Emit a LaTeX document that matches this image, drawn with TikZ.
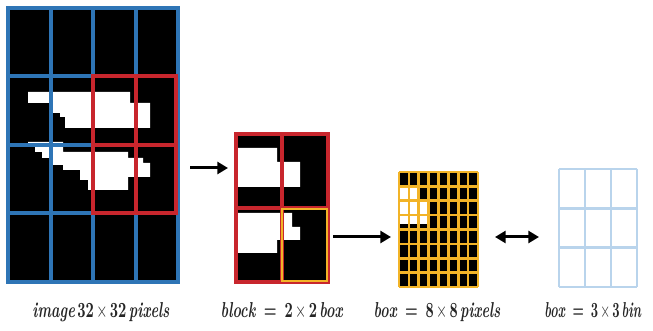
\documentclass[tikz,border=0pt]{standalone}
\usetikzlibrary{arrows.meta,fit}
\definecolor{blueC}{RGB}{46,117,182}
\definecolor{redC}{RGB}{200,38,45}
\definecolor{orangeC}{RGB}{242,180,40}
\definecolor{lightblueC}{RGB}{185,212,236}
\newcommand{\labtext}[2]{\resizebox{#1}{11.25pt}{#2}}
\tikzset{
  figbox/.style={inner sep=0pt, fill=black},
  blueline/.style={draw=blueC, line width=3pt},
  redline/.style={draw=redC, line width=3pt},
  orangeline/.style={draw=orangeC, line width=2.2pt},
  yelline/.style={draw=orangeC, line width=2pt},
  binline/.style={draw=lightblueC, line width=2.2pt},
  arr/.style={line width=2.25pt, -{Triangle[length=8pt,width=9pt]}},
  darr/.style={line width=2.25pt, {Triangle[length=8pt,width=9pt]}-{Triangle[length=8pt,width=9pt]}},
  lbl/.style={anchor=base, inner sep=0pt, text=black!85, font=\bfseries},
}
\begin{document}
\begin{tikzpicture}[x=0.75pt,y=-0.75pt]
\useasboundingbox (0,0) rectangle (653,331);

% ---------- image 32x32 ----------
\node[figbox, fit={(8,8)(178,282)}] (img) {};
\fill[white] (28,92) -- (130,92) -- (130,103) -- (150,103) -- (150,128) -- (65,128)
  -- (65,117) -- (60,117) -- (60,113) -- (52,113) -- (52,103) -- (28,103) -- cycle;
\fill[white] (28,142) -- (63,142) -- (63,152) -- (128,152) -- (128,158) -- (143,158)
  -- (143,163) -- (150,163) -- (150,177) -- (128,177) -- (128,190) -- (88,190)
  -- (88,180) -- (80,180) -- (80,170) -- (63,170) -- (63,165) -- (50,165)
  -- (50,158) -- (42,158) -- (42,152) -- (35,152) -- (35,147) -- (28,147) -- cycle;
\foreach \xx in {50.5,93,135.5} \draw[blueline] (\xx,8) -- (\xx,282);
\foreach \yy in {76.5,145,213.5} \draw[blueline] (8,\yy) -- (178,\yy);
\draw[blueline] (img.south west) rectangle (img.north east);
\draw[redline] (93,76.5) rectangle (176,213.5);
\draw[redline] (135.5,76.5) -- (135.5,213.5);
\draw[redline] (93,145) -- (176,145);

% ---------- block 2x2 box ----------
\node[figbox, fit={(236,134)(328,282)}] (blk) {};
\fill[white] (238,148) -- (277,148) -- (277,162) -- (300,162) -- (300,187) -- (238,187) -- cycle;
\fill[white] (238,213) -- (292,213) -- (292,227) -- (300,227) -- (300,240) -- (277,240)
  -- (277,253) -- (238,253) -- cycle;
\draw[redline] (blk.south west) rectangle (blk.north east);
\draw[redC, line width=2.4pt] (282,134) -- (282,282);
\draw[redline] (236,208) -- (328,208);
\draw[orangeline] (282,209) rectangle (327,281);

% ---------- box 8x8 pixels ----------
\node[figbox, fit={(399,172)(478,287)}] (box8) {};
\foreach \r/\c in {1/0,1/1,2/0,2/1,2/2}
  \fill[white] ({399+\c*9.875},{172+\r*14.375}) rectangle ++(9.875,14.375);
\foreach \c in {0,1,2}
  \fill[white] ({399+\c*9.875},{172+3*14.375}) rectangle ++(9.875,9);
\foreach \i in {0,...,8} {
  \draw[yelline] ({399+\i*9.875},172) -- ({399+\i*9.875},287);
  \draw[yelline] (399,{172+\i*14.375}) -- (478,{172+\i*14.375});
}

% ---------- bin 3x3 ----------
\node[inner sep=0pt, fit={(559,169)(637,287)}] (bin) {};
\foreach \i in {0,1,2,3} {
  \draw[binline] ({559+\i*26},169) -- ({559+\i*26},287);
  \draw[binline] (559,{169+\i*39.33}) -- (637,{169+\i*39.33});
}

% ---------- arrows ----------
\coordinate (a1s) at (190,168);
\coordinate (a1e) at (228,168);
\coordinate (a2s) at (333,237);
\coordinate (a2e) at (391,237);
\coordinate (a3s) at (495,237);
\coordinate (a3e) at (539,237);
\draw[arr] (a1s) -- (a1e);
\draw[arr] (a2s) -- (a2e);
\draw[darr] (a3s) -- (a3e);

% ---------- labels ----------
\node[lbl] (t1) at (101,317) {\labtext{102.75pt}{\textit{image}\,32\,$\times$\,32\,\textit{pixels}}};
\node[lbl] (t2) at (282,317) {\labtext{92pt}{\textit{block} \,=\, 2\,$\times$\,2\,\textit{box}}};
\node[lbl] (t3) at (437,317) {\labtext{95pt}{\textit{box} \,=\, 8\,$\times$\,8\,\textit{pixels}}};
\node[lbl] (t4) at (593,317) {\labtext{73pt}{\textit{box} \,=\, 3\,$\times$\,3\,\textit{bin}}};
\end{tikzpicture}
\end{document}
